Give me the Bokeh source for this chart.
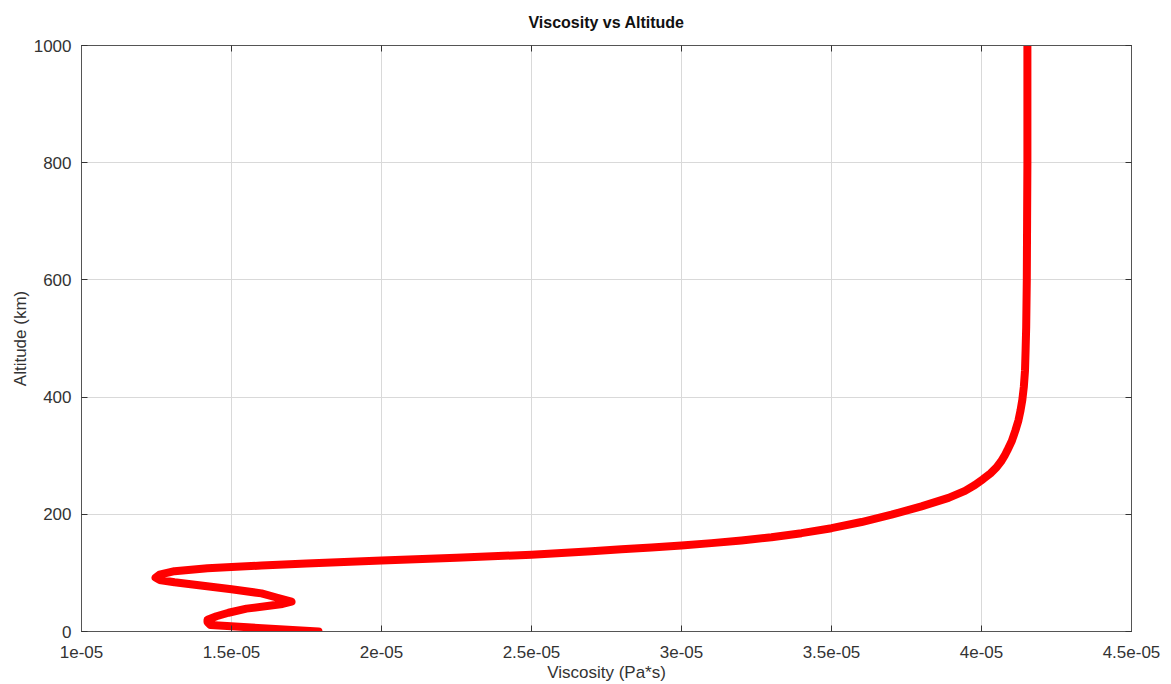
from bokeh.plotting import figure
from bokeh.models import FixedTicker, LinearAxis, Range1d
from bokeh.embed import file_html
from bokeh.resources import INLINE

altitude_km = [0, 11, 16, 20, 26, 32, 39, 47, 51, 58, 65, 72, 84, 88, 92, 97, 103, 108, 110, 112.5,
               116, 121, 126, 131, 134, 137, 140.5, 143.5, 146.8, 150.8, 155.3, 160.8, 167.8, 176.3,
               186.8, 199.3, 213.5, 228, 240, 250, 260, 270, 280, 290, 300, 309, 325, 343, 360, 377, 395, 417, 445,
               480, 520, 600, 700, 800, 900, 1000]
viscosity_e5 = [1.79, 1.43, 1.42, 1.42, 1.45, 1.49, 1.55, 1.67, 1.70, 1.65, 1.60, 1.50, 1.31, 1.26, 1.247, 1.26, 1.31, 1.42, 1.50, 1.60,
                1.75, 2.00, 2.25, 2.50, 2.60, 2.70, 2.80, 2.90, 3.00, 3.10, 3.20, 3.30, 3.40, 3.50,
                3.60, 3.70, 3.80, 3.89, 3.945, 3.978, 4.005, 4.03, 4.05, 4.065, 4.077, 4.086, 4.101, 4.113, 4.123, 4.130, 4.136, 4.141, 4.145,
                4.147, 4.149, 4.151, 4.152, 4.153, 4.153, 4.153]
viscosity = [v * 1e-5 for v in viscosity_e5]

xticks = [1e-05, 1.5e-05, 2e-05, 2.5e-05, 3e-05, 3.5e-05, 4e-05, 4.5e-05]
xtick_labels = ["1e-05", "1.5e-05", "2e-05", "2.5e-05", "3e-05", "3.5e-05", "4e-05", "4.5e-05"]
yticks = [0, 200, 400, 600, 800, 1000]

FONT = "Liberation Sans"

p = figure(width=1171, height=684, output_backend="svg", toolbar_location=None,
           x_range=Range1d(1e-05, 4.5e-05), y_range=Range1d(0, 1000),
           title="Viscosity vs Altitude",
           min_border_left=81, min_border_right=40, min_border_top=45, min_border_bottom=53)

p.title.align = "center"
p.title.text_font = FONT
p.title.text_font_size = "16px"
p.title.text_font_style = "bold"
p.title.text_color = "#111111"
p.title.standoff = 26
p.title.vertical_align = "top"

p.line(viscosity, altitude_km, line_color="#ff0000", line_width=8, line_join="round", line_cap="round")

p.xaxis.ticker = FixedTicker(ticks=xticks)
p.xaxis.major_label_overrides = dict(zip(xticks, xtick_labels))
p.yaxis.ticker = FixedTicker(ticks=yticks)
p.xaxis.axis_label = "Viscosity (Pa*s)"
p.yaxis.axis_label = "Altitude (km)"

for ax in [p.xaxis[0], p.yaxis[0]]:
    ax.major_tick_in = 6
    ax.major_tick_out = 0
    ax.minor_tick_in = 0
    ax.minor_tick_out = 0
    ax.axis_line_color = "#555555"
    ax.major_tick_line_color = "#333333"
    ax.major_label_text_font = FONT
    ax.major_label_text_font_size = "17px"
    ax.major_label_text_color = "#333333"
    ax.axis_label_text_font = FONT
    ax.axis_label_text_font_size = "17px"
    ax.axis_label_text_font_style = "normal"
    ax.axis_label_text_color = "#333333"

p.xaxis.major_label_standoff = 14
p.xaxis.axis_label_standoff = 2
p.yaxis.major_label_standoff = 10
p.yaxis.axis_label_standoff = 1

top_ax = LinearAxis(ticker=FixedTicker(ticks=xticks), major_label_overrides={t: "" for t in xticks},
                    major_tick_in=6, major_tick_out=0, minor_tick_in=0, minor_tick_out=0,
                    axis_line_color="#555555", major_tick_line_color="#333333",
                    major_label_standoff=0)
right_ax = LinearAxis(ticker=FixedTicker(ticks=yticks), major_label_overrides={t: "" for t in yticks},
                      major_tick_in=6, major_tick_out=0, minor_tick_in=0, minor_tick_out=0,
                      axis_line_color="#555555", major_tick_line_color="#333333",
                      major_label_standoff=0)
p.add_layout(top_ax, "above")
p.add_layout(right_ax, "right")

p.xgrid.ticker = FixedTicker(ticks=xticks)
p.ygrid.ticker = FixedTicker(ticks=yticks)
p.grid.grid_line_color = "#d9d9d9"
p.grid.grid_line_width = 1

p.outline_line_color = "#555555"
p.outline_line_width = 1
p.background_fill_color = "white"
p.border_fill_color = "white"

open("out.html", "w").write(file_html(p, INLINE))
